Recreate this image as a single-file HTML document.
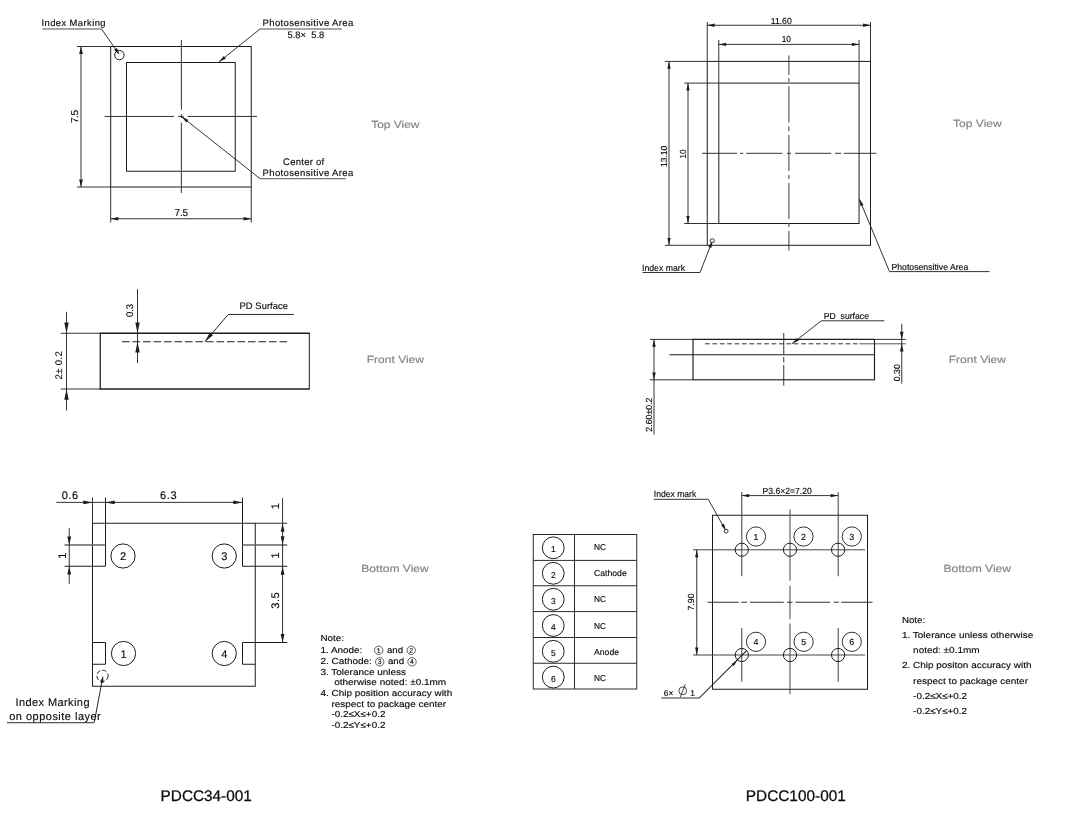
<!DOCTYPE html>
<html lang="en">
<head>
<meta charset="utf-8">
<title>PDCC34-001 / PDCC100-001 package outline</title>
<style>
html,body{margin:0;padding:0;background:#fff;}
body{width:1073px;height:816px;overflow:hidden;}
svg{display:block;font-family:"Liberation Sans",sans-serif;will-change:transform;}
svg text{white-space:pre;text-rendering:geometricPrecision;}
</style>
</head>
<body>
<svg width="1073" height="816" viewBox="0 0 1073 816" role="img" aria-label="Package outline drawings for PDCC34-001 and PDCC100-001">
<rect x="0" y="0" width="1073" height="816" fill="#ffffff"/>
<g id="pdcc34-top">
<rect x="110.7" y="46.5" width="140.55" height="140.5" fill="none" stroke="#1c1c1c" stroke-width="1.0"/>
<rect x="126.5" y="62.5" width="108.75" height="108.75" fill="none" stroke="#1c1c1c" stroke-width="1.0"/>
<line x1="181.4" y1="40" x2="181.4" y2="109.8" stroke="#444" stroke-width="1.1"/>
<line x1="181.4" y1="114.2" x2="181.4" y2="118" stroke="#444" stroke-width="1.1"/>
<line x1="181.4" y1="122.8" x2="181.4" y2="193" stroke="#444" stroke-width="1.1"/>
<line x1="104.5" y1="116.45" x2="174" y2="116.45" stroke="#1c1c1c" stroke-width="0.9"/>
<line x1="178.2" y1="116.45" x2="183.6" y2="116.45" stroke="#1c1c1c" stroke-width="0.9"/>
<line x1="187.8" y1="116.45" x2="257" y2="116.45" stroke="#1c1c1c" stroke-width="0.9"/>
<line x1="77" y1="46.5" x2="110.75" y2="46.5" stroke="#1c1c1c" stroke-width="0.9"/>
<line x1="77" y1="187" x2="110.75" y2="187" stroke="#1c1c1c" stroke-width="0.9"/>
<line x1="81" y1="46.5" x2="81" y2="187" stroke="#333" stroke-width="1"/>
<polygon points="81,46.5 82.85,54.1 79.15,54.1" fill="#1c1c1c"/>
<polygon points="81,187 79.15,179.4 82.85,179.4" fill="#1c1c1c"/>
<text x="0" y="0" font-size="10" fill="#0a0a0a" stroke="#0a0a0a" stroke-width="0.14" text-anchor="middle" textLength="13.2" lengthAdjust="spacing" transform="translate(78.2 116.5) rotate(-90)">7.5</text>
<line x1="110.7" y1="187" x2="110.7" y2="222.5" stroke="#1c1c1c" stroke-width="0.9"/>
<line x1="251.25" y1="187" x2="251.25" y2="222.5" stroke="#1c1c1c" stroke-width="0.9"/>
<line x1="110.75" y1="218.75" x2="251.25" y2="218.75" stroke="#1c1c1c" stroke-width="0.9"/>
<polygon points="110.75,218.75 118.35,216.9 118.35,220.6" fill="#1c1c1c"/>
<polygon points="251.25,218.75 243.65,220.6 243.65,216.9" fill="#1c1c1c"/>
<text x="174.6" y="216.2" font-size="10" fill="#0a0a0a" stroke="#0a0a0a" stroke-width="0.14" textLength="13.4" lengthAdjust="spacing">7.5</text>
<circle cx="119.4" cy="55.1" r="4.7" fill="none" stroke="#1c1c1c" stroke-width="1.0"/>
<text x="41.5" y="25.8" font-size="9.4" fill="#0a0a0a" stroke="#0a0a0a" stroke-width="0.14" textLength="64" lengthAdjust="spacing">Index Marking</text>
<line x1="42.5" y1="29" x2="101.5" y2="29" stroke="#8a8a8a" stroke-width="1.6"/>
<line x1="101.5" y1="29" x2="118.4" y2="53.3" stroke="#1c1c1c" stroke-width="0.9"/>
<polygon points="119.4,54.8 114.08,49.93 117.0,48.0" fill="#1c1c1c"/>
<text x="262.5" y="26.0" font-size="9.5" fill="#0a0a0a" stroke="#0a0a0a" stroke-width="0.14" textLength="90.75" lengthAdjust="spacing">Photosensitive Area</text>
<line x1="260" y1="29" x2="341.75" y2="29" stroke="#8a8a8a" stroke-width="1.6"/>
<line x1="260" y1="29" x2="219" y2="62" stroke="#1c1c1c" stroke-width="0.9"/>
<polygon points="219,62 223.76,55.96 225.9,58.6" fill="#1c1c1c"/>
<text x="287.5" y="37.5" font-size="9.4" fill="#0a0a0a" stroke="#0a0a0a" stroke-width="0.14" textLength="36.75" lengthAdjust="spacing">5.8×  5.8</text>
<text x="283" y="164.6" font-size="9.5" fill="#0a0a0a" stroke="#0a0a0a" stroke-width="0.14" textLength="41.25" lengthAdjust="spacing">Center of</text>
<text x="262.5" y="175.6" font-size="9.5" fill="#0a0a0a" stroke="#0a0a0a" stroke-width="0.14" textLength="90.75" lengthAdjust="spacing">Photosensitive Area</text>
<line x1="260" y1="178.6" x2="345.75" y2="178.6" stroke="#777" stroke-width="1.3"/>
<line x1="260" y1="178.6" x2="181.5" y2="116.6" stroke="#1c1c1c" stroke-width="0.9"/>
<polygon points="181.5,116.6 188.44,119.91 186.33,122.58" fill="#1c1c1c"/>
<text x="371.25" y="127.5" font-size="10.4" fill="#838383" stroke="#838383" stroke-width="0.14" textLength="48.25" lengthAdjust="spacingAndGlyphs">Top View</text>
</g>
<g id="pdcc34-front">
<line x1="99.6" y1="333.25" x2="309.8" y2="333.25" stroke="#1c1c1c" stroke-width="1.3"/>
<line x1="99.6" y1="389" x2="309.8" y2="389" stroke="#1c1c1c" stroke-width="1.3"/>
<line x1="100.25" y1="333.25" x2="100.25" y2="389" stroke="#1c1c1c" stroke-width="1.25"/>
<line x1="309.3" y1="333.25" x2="309.3" y2="389" stroke="#1c1c1c" stroke-width="1.0"/>
<line x1="60.75" y1="333.25" x2="100.25" y2="333.25" stroke="#1c1c1c" stroke-width="0.9"/>
<line x1="60.75" y1="389" x2="100.25" y2="389" stroke="#1c1c1c" stroke-width="0.9"/>
<line x1="66.5" y1="311.75" x2="66.5" y2="410.5" stroke="#1c1c1c" stroke-width="0.9"/>
<polygon points="66.5,333.25 64.3,322.45 68.7,322.45" fill="#1c1c1c"/>
<polygon points="66.5,389 68.7,399.8 64.3,399.8" fill="#1c1c1c"/>
<text x="0" y="0" font-size="9.6" fill="#0a0a0a" stroke="#0a0a0a" stroke-width="0.14" text-anchor="middle" textLength="28.25" lengthAdjust="spacing" transform="translate(62.2 365.4) rotate(-90)">2± 0.2</text>
<line x1="137.5" y1="289.25" x2="137.5" y2="363" stroke="#1c1c1c" stroke-width="0.9"/>
<polygon points="137.5,333.25 135.3,322.45 139.7,322.45" fill="#1c1c1c"/>
<polygon points="137.5,341.75 139.7,352.55 135.3,352.55" fill="#1c1c1c"/>
<text x="0" y="0" font-size="9.6" fill="#0a0a0a" stroke="#0a0a0a" stroke-width="0.14" text-anchor="middle" textLength="13.2" lengthAdjust="spacing" transform="translate(133.4 310.5) rotate(-90)">0.3</text>
<line x1="122" y1="341.75" x2="287" y2="341.75" stroke="#1c1c1c" stroke-width="1.0" stroke-dasharray="7.6 2.9"/>
<text x="239.5" y="309.4" font-size="9.4" fill="#0a0a0a" stroke="#0a0a0a" stroke-width="0.14" textLength="48.5" lengthAdjust="spacing">PD Surface</text>
<line x1="228.25" y1="314.45" x2="293.75" y2="314.45" stroke="#1c1c1c" stroke-width="0.95"/>
<line x1="228.25" y1="314.45" x2="205" y2="341.6" stroke="#1c1c1c" stroke-width="0.95"/>
<polygon points="205,341.6 209.85,332.61 213.06,335.32" fill="#1c1c1c"/>
<text x="366.75" y="363" font-size="10.4" fill="#838383" stroke="#838383" stroke-width="0.14" textLength="57.25" lengthAdjust="spacingAndGlyphs">Front View</text>
</g>
<g id="pdcc34-bottom">
<rect x="92.5" y="523.25" width="162.75" height="163.0" fill="none" stroke="#1c1c1c" stroke-width="1.0"/>
<line x1="92.5" y1="497.5" x2="92.5" y2="523.25" stroke="#1c1c1c" stroke-width="0.9"/>
<line x1="105.5" y1="497.5" x2="105.5" y2="566.25" stroke="#1c1c1c" stroke-width="1.0"/>
<line x1="242.5" y1="497.5" x2="242.5" y2="566.25" stroke="#1c1c1c" stroke-width="1.0"/>
<line x1="64.5" y1="545" x2="105.5" y2="545" stroke="#666" stroke-width="1.4"/>
<line x1="64.5" y1="566.25" x2="105.5" y2="566.25" stroke="#1c1c1c" stroke-width="1.0"/>
<line x1="242.5" y1="545" x2="287.25" y2="545" stroke="#666" stroke-width="1.4"/>
<line x1="242.5" y1="566.25" x2="287.25" y2="566.25" stroke="#1c1c1c" stroke-width="1.0"/>
<line x1="255.25" y1="523.25" x2="287.25" y2="523.25" stroke="#1c1c1c" stroke-width="0.9"/>
<polyline points="92.5,642.5 105.5,642.5 105.5,664.25 92.5,664.25" fill="none" stroke="#1c1c1c" stroke-width="1.0"/>
<polyline points="255.25,664.25 242.5,664.25 242.5,642.5 287.25,642.5" fill="none" stroke="#1c1c1c" stroke-width="1.0"/>
<line x1="56.25" y1="502.4" x2="242.5" y2="502.4" stroke="#1c1c1c" stroke-width="0.9"/>
<polygon points="92.5,502.4 83.3,504.3 83.3,500.5" fill="#1c1c1c"/>
<polygon points="105.5,502.4 114.7,500.5 114.7,504.3" fill="#1c1c1c"/>
<polygon points="242.5,502.4 233.3,504.3 233.3,500.5" fill="#1c1c1c"/>
<text x="61.75" y="499.2" font-size="11" fill="#0a0a0a" stroke="#0a0a0a" stroke-width="0.14" textLength="16.25" lengthAdjust="spacing">0.6</text>
<text x="160" y="499.2" font-size="11" fill="#0a0a0a" stroke="#0a0a0a" stroke-width="0.14" textLength="16.5" lengthAdjust="spacing">6.3</text>
<line x1="69.25" y1="528.25" x2="69.25" y2="583.75" stroke="#1c1c1c" stroke-width="0.9"/>
<polygon points="69.25,544.75 67.35,536.55 71.15,536.55" fill="#1c1c1c"/>
<polygon points="69.25,566.25 71.15,574.45 67.35,574.45" fill="#1c1c1c"/>
<text x="0" y="0" font-size="11" fill="#0a0a0a" stroke="#0a0a0a" stroke-width="0.14" text-anchor="middle" transform="translate(66 555.75) rotate(-90)">1</text>
<line x1="282.6" y1="498.25" x2="282.6" y2="642.5" stroke="#1c1c1c" stroke-width="0.9"/>
<polygon points="282.6,523.25 284.5,531.85 280.7,531.85" fill="#1c1c1c"/>
<polygon points="282.6,544.75 280.7,536.15 284.5,536.15" fill="#1c1c1c"/>
<polygon points="282.6,566.25 284.5,574.85 280.7,574.85" fill="#1c1c1c"/>
<polygon points="282.6,642.5 280.7,633.9 284.5,633.9" fill="#1c1c1c"/>
<text x="0" y="0" font-size="11" fill="#0a0a0a" stroke="#0a0a0a" stroke-width="0.14" text-anchor="middle" transform="translate(279 506.25) rotate(-90)">1</text>
<text x="0" y="0" font-size="11" fill="#0a0a0a" stroke="#0a0a0a" stroke-width="0.14" text-anchor="middle" transform="translate(279 555.5) rotate(-90)">1</text>
<text x="0" y="0" font-size="11" fill="#0a0a0a" stroke="#0a0a0a" stroke-width="0.14" text-anchor="middle" textLength="16.25" lengthAdjust="spacing" transform="translate(278.7 600.5) rotate(-90)">3.5</text>
<circle cx="123" cy="556" r="12.1" fill="none" stroke="#1c1c1c" stroke-width="1.0"/>
<text x="123" y="560.0" font-size="11" fill="#0a0a0a" stroke="#0a0a0a" stroke-width="0.14" text-anchor="middle">2</text>
<circle cx="224.25" cy="556" r="12.1" fill="none" stroke="#1c1c1c" stroke-width="1.0"/>
<text x="224.25" y="560.0" font-size="11" fill="#0a0a0a" stroke="#0a0a0a" stroke-width="0.14" text-anchor="middle">3</text>
<circle cx="123.5" cy="653.5" r="12.1" fill="none" stroke="#1c1c1c" stroke-width="1.0"/>
<text x="123.5" y="657.5" font-size="11" fill="#0a0a0a" stroke="#0a0a0a" stroke-width="0.14" text-anchor="middle">1</text>
<circle cx="224.25" cy="653.5" r="12.1" fill="none" stroke="#1c1c1c" stroke-width="1.0"/>
<text x="224.25" y="657.5" font-size="11" fill="#0a0a0a" stroke="#0a0a0a" stroke-width="0.14" text-anchor="middle">4</text>
<circle cx="102.5" cy="675.75" r="5.6" fill="none" stroke="#1c1c1c" stroke-width="1.0" stroke-dasharray="4.2 2.2"/>
<line x1="94.25" y1="722.5" x2="102.6" y2="678" stroke="#1c1c1c" stroke-width="0.95"/>
<polygon points="103.1,675.8 103.48,682.99 100.14,682.37" fill="#1c1c1c"/>
<line x1="7" y1="722.6" x2="94.25" y2="722.6" stroke="#555" stroke-width="1.3"/>
<text x="15.5" y="706.4" font-size="11" fill="#0a0a0a" stroke="#0a0a0a" stroke-width="0.14" textLength="74" lengthAdjust="spacing">Index Marking</text>
<text x="9.25" y="719.5" font-size="11" fill="#0a0a0a" stroke="#0a0a0a" stroke-width="0.14" textLength="91.5" lengthAdjust="spacing">on opposite layer</text>
<text x="361.3" y="572" font-size="10.4" fill="#838383" stroke="#838383" stroke-width="0.14" textLength="67.5" lengthAdjust="spacingAndGlyphs">Bottom View</text>
<text x="320.4" y="641.1" font-size="8.7" fill="#0a0a0a" stroke="#0a0a0a" stroke-width="0.14" textLength="23.5" lengthAdjust="spacingAndGlyphs">Note:</text>
<text x="320.4" y="652.6" font-size="8.7" fill="#0a0a0a" stroke="#0a0a0a" stroke-width="0.14" textLength="42" lengthAdjust="spacingAndGlyphs">1. Anode:</text>
<text x="386.9" y="652.6" font-size="8.7" fill="#0a0a0a" stroke="#0a0a0a" stroke-width="0.14" textLength="16.2" lengthAdjust="spacingAndGlyphs">and</text>
<text x="320.4" y="664.1" font-size="8.7" fill="#0a0a0a" stroke="#0a0a0a" stroke-width="0.14" textLength="51.5" lengthAdjust="spacingAndGlyphs">2. Cathode:</text>
<text x="387.9" y="664.1" font-size="8.7" fill="#0a0a0a" stroke="#0a0a0a" stroke-width="0.14" textLength="16.2" lengthAdjust="spacingAndGlyphs">and</text>
<circle cx="378.7" cy="650.3" r="4.2" fill="none" stroke="#1c1c1c" stroke-width="0.7"/>
<text x="378.7" y="652.6999999999999" font-size="6.8" fill="#0a0a0a" stroke="#0a0a0a" stroke-width="0.14" text-anchor="middle">1</text>
<circle cx="411.2" cy="650.3" r="4.2" fill="none" stroke="#1c1c1c" stroke-width="0.7"/>
<text x="411.2" y="652.6999999999999" font-size="6.8" fill="#0a0a0a" stroke="#0a0a0a" stroke-width="0.14" text-anchor="middle">2</text>
<circle cx="379.7" cy="661.8" r="4.2" fill="none" stroke="#1c1c1c" stroke-width="0.7"/>
<text x="379.7" y="664.1999999999999" font-size="6.8" fill="#0a0a0a" stroke="#0a0a0a" stroke-width="0.14" text-anchor="middle">3</text>
<circle cx="412" cy="661.8" r="4.2" fill="none" stroke="#1c1c1c" stroke-width="0.7"/>
<text x="412" y="664.1999999999999" font-size="6.8" fill="#0a0a0a" stroke="#0a0a0a" stroke-width="0.14" text-anchor="middle">4</text>
<text x="320.4" y="674.9" font-size="8.7" fill="#0a0a0a" stroke="#0a0a0a" stroke-width="0.14" textLength="85.7" lengthAdjust="spacingAndGlyphs">3. Tolerance unless</text>
<text x="334.2" y="685.2" font-size="8.7" fill="#0a0a0a" stroke="#0a0a0a" stroke-width="0.14" textLength="112" lengthAdjust="spacingAndGlyphs">otherwise noted: ±0.1mm</text>
<text x="320.4" y="696.0" font-size="8.7" fill="#0a0a0a" stroke="#0a0a0a" stroke-width="0.14" textLength="131.8" lengthAdjust="spacingAndGlyphs">4. Chip position accuracy with</text>
<text x="331.4" y="706.7" font-size="8.7" fill="#0a0a0a" stroke="#0a0a0a" stroke-width="0.14" textLength="114.8" lengthAdjust="spacingAndGlyphs">respect to package center</text>
<text x="331.4" y="717.1" font-size="8.7" fill="#0a0a0a" stroke="#0a0a0a" stroke-width="0.14" textLength="54" lengthAdjust="spacingAndGlyphs">-0.2≤X≤+0.2</text>
<text x="331.4" y="727.6" font-size="8.7" fill="#0a0a0a" stroke="#0a0a0a" stroke-width="0.14" textLength="54" lengthAdjust="spacingAndGlyphs">-0.2≤Y≤+0.2</text>
<text x="160.6" y="800.9" font-size="15.4" fill="#0a0a0a" stroke="#0a0a0a" stroke-width="0.25" textLength="91.2" lengthAdjust="spacingAndGlyphs">PDCC34-001</text>
</g>
<g id="pdcc100-top">
<rect x="707.25" y="61.4" width="163.25" height="183.9" fill="none" stroke="#1c1c1c" stroke-width="1.0"/>
<rect x="718.8" y="83.1" width="140.25" height="140.4" fill="none" stroke="#1c1c1c" stroke-width="1.0"/>
<line x1="707.25" y1="22" x2="707.25" y2="61.25" stroke="#1c1c1c" stroke-width="0.9"/>
<line x1="870.5" y1="22" x2="870.5" y2="61.25" stroke="#1c1c1c" stroke-width="0.9"/>
<line x1="718.75" y1="40" x2="718.75" y2="83" stroke="#1c1c1c" stroke-width="0.9"/>
<line x1="859.05" y1="40" x2="859.05" y2="83" stroke="#1c1c1c" stroke-width="0.9"/>
<line x1="707.25" y1="25.25" x2="870.5" y2="25.25" stroke="#1c1c1c" stroke-width="0.9"/>
<polygon points="707.25,25.25 714.65,23.6 714.65,26.9" fill="#1c1c1c"/>
<polygon points="870.5,25.25 863.1,26.9 863.1,23.6" fill="#1c1c1c"/>
<line x1="718.75" y1="44.4" x2="859.25" y2="44.4" stroke="#1c1c1c" stroke-width="0.9"/>
<polygon points="718.75,44.4 726.15,42.75 726.15,46.05" fill="#1c1c1c"/>
<polygon points="859.25,44.4 851.85,46.05 851.85,42.75" fill="#1c1c1c"/>
<text x="770.75" y="23.75" font-size="8.8" fill="#0a0a0a" stroke="#0a0a0a" stroke-width="0.14" textLength="21" lengthAdjust="spacingAndGlyphs">11.60</text>
<text x="781.75" y="42.0" font-size="8.8" fill="#0a0a0a" stroke="#0a0a0a" stroke-width="0.14" textLength="9.25" lengthAdjust="spacingAndGlyphs">10</text>
<line x1="665" y1="61.4" x2="707.25" y2="61.4" stroke="#1c1c1c" stroke-width="0.9"/>
<line x1="665" y1="245.3" x2="707.25" y2="245.3" stroke="#1c1c1c" stroke-width="0.9"/>
<line x1="684.25" y1="83.1" x2="718.75" y2="83.1" stroke="#1c1c1c" stroke-width="0.9"/>
<line x1="684.25" y1="223.5" x2="718.75" y2="223.5" stroke="#1c1c1c" stroke-width="0.9"/>
<line x1="669" y1="61.4" x2="669" y2="245.3" stroke="#333" stroke-width="1"/>
<polygon points="669,61.4 670.65,68.8 667.35,68.8" fill="#1c1c1c"/>
<polygon points="669,245.3 667.35,237.9 670.65,237.9" fill="#1c1c1c"/>
<line x1="688" y1="83.1" x2="688" y2="223.5" stroke="#333" stroke-width="1"/>
<polygon points="688,83.1 689.65,90.5 686.35,90.5" fill="#1c1c1c"/>
<polygon points="688,223.5 686.35,216.1 689.65,216.1" fill="#1c1c1c"/>
<text x="0" y="0" font-size="8.8" fill="#0a0a0a" stroke="#0a0a0a" stroke-width="0.14" text-anchor="middle" textLength="21.25" lengthAdjust="spacingAndGlyphs" transform="translate(666.9 156.4) rotate(-90)">13.10</text>
<text x="0" y="0" font-size="8.8" fill="#0a0a0a" stroke="#0a0a0a" stroke-width="0.14" text-anchor="middle" textLength="9" lengthAdjust="spacingAndGlyphs" transform="translate(685.8 154) rotate(-90)">10</text>
<line x1="702" y1="153.3" x2="737" y2="153.3" stroke="#1c1c1c" stroke-width="0.9"/>
<line x1="740" y1="153.3" x2="743.25" y2="153.3" stroke="#1c1c1c" stroke-width="0.9"/>
<line x1="746.25" y1="153.3" x2="782.5" y2="153.3" stroke="#1c1c1c" stroke-width="0.9"/>
<line x1="787" y1="153.3" x2="791" y2="153.3" stroke="#1c1c1c" stroke-width="0.9"/>
<line x1="795" y1="153.3" x2="831.25" y2="153.3" stroke="#1c1c1c" stroke-width="0.9"/>
<line x1="835" y1="153.3" x2="841.25" y2="153.3" stroke="#1c1c1c" stroke-width="0.9"/>
<line x1="843.75" y1="153.3" x2="876.25" y2="153.3" stroke="#1c1c1c" stroke-width="0.9"/>
<line x1="788.9" y1="55.5" x2="788.9" y2="75" stroke="#333" stroke-width="0.95"/>
<line x1="788.9" y1="78" x2="788.9" y2="82" stroke="#333" stroke-width="0.95"/>
<line x1="788.9" y1="86.25" x2="788.9" y2="122.5" stroke="#333" stroke-width="0.95"/>
<line x1="788.9" y1="126.25" x2="788.9" y2="131.25" stroke="#333" stroke-width="0.95"/>
<line x1="788.9" y1="135" x2="788.9" y2="171" stroke="#333" stroke-width="0.95"/>
<line x1="788.9" y1="175" x2="788.9" y2="179" stroke="#333" stroke-width="0.95"/>
<line x1="788.9" y1="183" x2="788.9" y2="219" stroke="#333" stroke-width="0.95"/>
<line x1="788.9" y1="223" x2="788.9" y2="227" stroke="#333" stroke-width="0.95"/>
<line x1="788.9" y1="231" x2="788.9" y2="250.5" stroke="#333" stroke-width="0.95"/>
<circle cx="712.25" cy="240.75" r="2.1" fill="none" stroke="#1c1c1c" stroke-width="0.9"/>
<text x="642" y="270.75" font-size="9" fill="#0a0a0a" stroke="#0a0a0a" stroke-width="0.14" textLength="43" lengthAdjust="spacingAndGlyphs">Index mark</text>
<line x1="642.5" y1="272.5" x2="700" y2="272.5" stroke="#1c1c1c" stroke-width="0.9"/>
<line x1="700" y1="272.5" x2="711.8" y2="242.5" stroke="#1c1c1c" stroke-width="0.9"/>
<polygon points="712.3,241.3 711.33,248.02 708.36,246.83" fill="#1c1c1c"/>
<line x1="859.2" y1="198.75" x2="889.5" y2="271.6" stroke="#1c1c1c" stroke-width="0.9"/>
<polygon points="859.2,198.75 863.57,204.95 860.52,206.22" fill="#1c1c1c"/>
<line x1="889.5" y1="271.6" x2="989.5" y2="271.6" stroke="#1c1c1c" stroke-width="0.9"/>
<text x="891.5" y="270" font-size="8.8" fill="#0a0a0a" stroke="#0a0a0a" stroke-width="0.14" textLength="76.75" lengthAdjust="spacingAndGlyphs">Photosensitive Area</text>
<text x="953" y="127" font-size="10.4" fill="#838383" stroke="#838383" stroke-width="0.14" textLength="48.75" lengthAdjust="spacingAndGlyphs">Top View</text>
</g>
<g id="pdcc100-front">
<rect x="693" y="339.4" width="181.5" height="40.4" fill="none" stroke="#1c1c1c" stroke-width="1.15"/>
<line x1="669.5" y1="354.75" x2="874.5" y2="354.75" stroke="#1c1c1c" stroke-width="1.2"/>
<line x1="650" y1="339.4" x2="905.75" y2="339.4" stroke="#1c1c1c" stroke-width="0.9"/>
<line x1="650" y1="379.8" x2="693" y2="379.8" stroke="#1c1c1c" stroke-width="0.9"/>
<line x1="705" y1="343.8" x2="857.5" y2="343.8" stroke="#1c1c1c" stroke-width="0.9" stroke-dasharray="4.7 2.7"/>
<line x1="859.5" y1="343.8" x2="905.75" y2="343.8" stroke="#444" stroke-width="0.9"/>
<line x1="654" y1="339.25" x2="654" y2="434.5" stroke="#1c1c1c" stroke-width="0.9"/>
<polygon points="654,339.4 655.75,346.8 652.25,346.8" fill="#1c1c1c"/>
<polygon points="654,379.8 652.25,372.4 655.75,372.4" fill="#1c1c1c"/>
<text x="0" y="0" font-size="8.8" fill="#0a0a0a" stroke="#0a0a0a" stroke-width="0.14" text-anchor="middle" textLength="34.25" lengthAdjust="spacingAndGlyphs" transform="translate(652.2 414.6) rotate(-90)">2.60±0.2</text>
<line x1="783.75" y1="333" x2="783.75" y2="354.5" stroke="#1c1c1c" stroke-width="0.9"/>
<line x1="783.75" y1="357" x2="783.75" y2="362.5" stroke="#1c1c1c" stroke-width="0.9"/>
<line x1="783.75" y1="365" x2="783.75" y2="385.5" stroke="#1c1c1c" stroke-width="0.9"/>
<text x="823.75" y="318.5" font-size="8.8" fill="#0a0a0a" stroke="#0a0a0a" stroke-width="0.14" textLength="45.25" lengthAdjust="spacingAndGlyphs">PD  surface</text>
<line x1="821.25" y1="320.8" x2="884.25" y2="320.8" stroke="#1c1c1c" stroke-width="0.9"/>
<line x1="821.25" y1="320.8" x2="792" y2="343.8" stroke="#1c1c1c" stroke-width="0.9"/>
<polygon points="792,343.8 796.84,337.96 798.86,340.57" fill="#1c1c1c"/>
<line x1="901.75" y1="323.75" x2="901.75" y2="383.75" stroke="#1c1c1c" stroke-width="0.9"/>
<polygon points="901.75,339.4 899.95,331.8 903.55,331.8" fill="#1c1c1c"/>
<polygon points="901.75,343.8 903.55,351.4 899.95,351.4" fill="#1c1c1c"/>
<text x="0" y="0" font-size="8.8" fill="#0a0a0a" stroke="#0a0a0a" stroke-width="0.14" text-anchor="middle" textLength="17" lengthAdjust="spacingAndGlyphs" transform="translate(900 372.75) rotate(-90)">0.30</text>
<text x="948.75" y="363.25" font-size="10.4" fill="#838383" stroke="#838383" stroke-width="0.14" textLength="57.25" lengthAdjust="spacingAndGlyphs">Front View</text>
</g>
<g id="pdcc100-bottom">
<rect x="712.5" y="515.25" width="155.0" height="174.0" fill="none" stroke="#1c1c1c" stroke-width="1.0"/>
<line x1="741.8" y1="492" x2="741.8" y2="576.25" stroke="#333" stroke-width="0.95"/>
<line x1="838.2" y1="492" x2="838.2" y2="576.25" stroke="#333" stroke-width="0.95"/>
<line x1="741.75" y1="495.6" x2="838" y2="495.6" stroke="#1c1c1c" stroke-width="0.9"/>
<polygon points="741.75,495.6 749.15,493.95 749.15,497.25" fill="#1c1c1c"/>
<polygon points="838,495.6 830.6,497.25 830.6,493.95" fill="#1c1c1c"/>
<text x="762.5" y="493.75" font-size="8.8" fill="#0a0a0a" stroke="#0a0a0a" stroke-width="0.14" textLength="49.25" lengthAdjust="spacingAndGlyphs">P3.6×2=7.20</text>
<line x1="693" y1="549.8" x2="865" y2="549.8" stroke="#444" stroke-width="1"/>
<line x1="693" y1="655" x2="865" y2="655" stroke="#444" stroke-width="1"/>
<line x1="741.8" y1="628" x2="741.8" y2="681.8" stroke="#333" stroke-width="0.95"/>
<line x1="838.2" y1="628" x2="838.2" y2="681.8" stroke="#333" stroke-width="0.95"/>
<line x1="790" y1="509.5" x2="790" y2="580.6" stroke="#444" stroke-width="1"/>
<line x1="790" y1="585.7" x2="790" y2="619.2" stroke="#444" stroke-width="1"/>
<line x1="790" y1="623.5" x2="790" y2="694.2" stroke="#444" stroke-width="1"/>
<line x1="707.5" y1="602.25" x2="738.75" y2="602.25" stroke="#1c1c1c" stroke-width="0.9"/>
<line x1="741.25" y1="602.25" x2="747" y2="602.25" stroke="#1c1c1c" stroke-width="0.9"/>
<line x1="750" y1="602.25" x2="783.75" y2="602.25" stroke="#1c1c1c" stroke-width="0.9"/>
<line x1="787" y1="602.25" x2="792.5" y2="602.25" stroke="#1c1c1c" stroke-width="0.9"/>
<line x1="795.5" y1="602.25" x2="830" y2="602.25" stroke="#1c1c1c" stroke-width="0.9"/>
<line x1="833.75" y1="602.25" x2="838.75" y2="602.25" stroke="#1c1c1c" stroke-width="0.9"/>
<line x1="841.25" y1="602.25" x2="872.5" y2="602.25" stroke="#1c1c1c" stroke-width="0.9"/>
<circle cx="741.8" cy="549.75" r="6.6" fill="none" stroke="#1c1c1c" stroke-width="1.0"/>
<circle cx="741.8" cy="655" r="6.6" fill="none" stroke="#1c1c1c" stroke-width="1.0"/>
<circle cx="790" cy="549.75" r="6.6" fill="none" stroke="#1c1c1c" stroke-width="1.0"/>
<circle cx="790" cy="655" r="6.6" fill="none" stroke="#1c1c1c" stroke-width="1.0"/>
<circle cx="838.1" cy="549.75" r="6.6" fill="none" stroke="#1c1c1c" stroke-width="1.0"/>
<circle cx="838.1" cy="655" r="6.6" fill="none" stroke="#1c1c1c" stroke-width="1.0"/>
<circle cx="756" cy="536.5" r="9.6" fill="none" stroke="#1c1c1c" stroke-width="0.9"/>
<text x="756" y="540.0" font-size="8.8" fill="#0a0a0a" stroke="#0a0a0a" stroke-width="0.14" text-anchor="middle">1</text>
<circle cx="803.5" cy="536.5" r="9.6" fill="none" stroke="#1c1c1c" stroke-width="0.9"/>
<text x="803.5" y="540.0" font-size="8.8" fill="#0a0a0a" stroke="#0a0a0a" stroke-width="0.14" text-anchor="middle">2</text>
<circle cx="851.8" cy="536.5" r="9.6" fill="none" stroke="#1c1c1c" stroke-width="0.9"/>
<text x="851.8" y="540.0" font-size="8.8" fill="#0a0a0a" stroke="#0a0a0a" stroke-width="0.14" text-anchor="middle">3</text>
<circle cx="756" cy="641.8" r="9.6" fill="none" stroke="#1c1c1c" stroke-width="0.9"/>
<text x="756" y="645.3" font-size="8.8" fill="#0a0a0a" stroke="#0a0a0a" stroke-width="0.14" text-anchor="middle">4</text>
<circle cx="803.6" cy="641.8" r="9.6" fill="none" stroke="#1c1c1c" stroke-width="0.9"/>
<text x="803.6" y="645.3" font-size="8.8" fill="#0a0a0a" stroke="#0a0a0a" stroke-width="0.14" text-anchor="middle">5</text>
<circle cx="851.8" cy="641.8" r="9.6" fill="none" stroke="#1c1c1c" stroke-width="0.9"/>
<text x="851.8" y="645.3" font-size="8.8" fill="#0a0a0a" stroke="#0a0a0a" stroke-width="0.14" text-anchor="middle">6</text>
<line x1="696.75" y1="549.75" x2="696.75" y2="655" stroke="#1c1c1c" stroke-width="0.9"/>
<polygon points="696.75,549.75 698.4,557.15 695.1,557.15" fill="#1c1c1c"/>
<polygon points="696.75,655 695.1,647.6 698.4,647.6" fill="#1c1c1c"/>
<text x="0" y="0" font-size="8.8" fill="#0a0a0a" stroke="#0a0a0a" stroke-width="0.14" text-anchor="middle" textLength="17" lengthAdjust="spacingAndGlyphs" transform="translate(694.3 602) rotate(-90)">7.90</text>
<circle cx="726.2" cy="531.2" r="1.9" fill="none" stroke="#1c1c1c" stroke-width="0.9"/>
<text x="653.75" y="497" font-size="9" fill="#0a0a0a" stroke="#0a0a0a" stroke-width="0.14" textLength="42.5" lengthAdjust="spacingAndGlyphs">Index mark</text>
<line x1="653.75" y1="499.3" x2="708.25" y2="499.3" stroke="#1c1c1c" stroke-width="0.9"/>
<line x1="708.25" y1="499.3" x2="725" y2="529.2" stroke="#1c1c1c" stroke-width="0.9"/>
<polygon points="725.9,530.6 721.04,525.28 724.02,523.65" fill="#1c1c1c"/>
<line x1="661.25" y1="698" x2="699.5" y2="698" stroke="#1c1c1c" stroke-width="0.9"/>
<line x1="699.3" y1="698" x2="746.6" y2="650.6" stroke="#111" stroke-width="1.05"/>
<polygon points="736.8,660.9 733.76,666.06 731.64,663.94" fill="#1c1c1c"/>
<text x="663.75" y="696" font-size="8.4" fill="#0a0a0a" stroke="#0a0a0a" stroke-width="0.14" textLength="9.5" lengthAdjust="spacingAndGlyphs">6×</text>
<circle cx="682.75" cy="690.8" r="3.9" fill="none" stroke="#1c1c1c" stroke-width="0.8"/>
<line x1="680.3" y1="697.2" x2="685.4" y2="684.2" stroke="#1c1c1c" stroke-width="0.8"/>
<text x="690.3" y="696" font-size="8.4" fill="#0a0a0a" stroke="#0a0a0a" stroke-width="0.14">1</text>
<text x="943.5" y="571.7" font-size="10.4" fill="#838383" stroke="#838383" stroke-width="0.14" textLength="67.5" lengthAdjust="spacingAndGlyphs">Bottom View</text>
<text x="901.9" y="622.6" font-size="8.7" fill="#0a0a0a" stroke="#0a0a0a" stroke-width="0.14" textLength="23.3" lengthAdjust="spacingAndGlyphs">Note:</text>
<text x="901.9" y="638" font-size="8.7" fill="#0a0a0a" stroke="#0a0a0a" stroke-width="0.14" textLength="131.4" lengthAdjust="spacingAndGlyphs">1. Tolerance unless otherwise</text>
<text x="913.1" y="653.1" font-size="8.7" fill="#0a0a0a" stroke="#0a0a0a" stroke-width="0.14" textLength="66.5" lengthAdjust="spacingAndGlyphs">noted: ±0.1mm</text>
<text x="901.9" y="668.4" font-size="8.7" fill="#0a0a0a" stroke="#0a0a0a" stroke-width="0.14" textLength="129.7" lengthAdjust="spacingAndGlyphs">2. Chip positon accuracy with</text>
<text x="913.1" y="683.5" font-size="8.7" fill="#0a0a0a" stroke="#0a0a0a" stroke-width="0.14" textLength="114.9" lengthAdjust="spacingAndGlyphs">respect to package center</text>
<text x="913.1" y="698.9" font-size="8.7" fill="#0a0a0a" stroke="#0a0a0a" stroke-width="0.14" textLength="54" lengthAdjust="spacingAndGlyphs">-0.2≤X≤+0.2</text>
<text x="913.1" y="714.2" font-size="8.7" fill="#0a0a0a" stroke="#0a0a0a" stroke-width="0.14" textLength="54" lengthAdjust="spacingAndGlyphs">-0.2≤Y≤+0.2</text>
<text x="745.8" y="800.9" font-size="15.4" fill="#0a0a0a" stroke="#0a0a0a" stroke-width="0.25" textLength="100" lengthAdjust="spacingAndGlyphs">PDCC100-001</text>
</g>
<g id="pin-table">
<rect x="533.25" y="534.5" width="103.5" height="154.5" fill="none" stroke="#2a2a2a" stroke-width="1"/>
<line x1="574.5" y1="534.5" x2="574.5" y2="689" stroke="#2a2a2a" stroke-width="1"/>
<line x1="533.25" y1="560.4" x2="636.75" y2="560.4" stroke="#2a2a2a" stroke-width="1"/>
<line x1="533.25" y1="585.75" x2="636.75" y2="585.75" stroke="#2a2a2a" stroke-width="1"/>
<line x1="533.25" y1="611.6" x2="636.75" y2="611.6" stroke="#2a2a2a" stroke-width="1"/>
<line x1="533.25" y1="637.5" x2="636.75" y2="637.5" stroke="#2a2a2a" stroke-width="1"/>
<line x1="533.25" y1="663.25" x2="636.75" y2="663.25" stroke="#2a2a2a" stroke-width="1"/>
<circle cx="553.25" cy="547.8" r="10.9" fill="none" stroke="#1c1c1c" stroke-width="1.0"/>
<text x="553.25" y="552.1999999999999" font-size="8.5" fill="#0a0a0a" stroke="#0a0a0a" stroke-width="0.14" text-anchor="middle">1</text>
<text x="594" y="549.5" font-size="8.6" fill="#0a0a0a" stroke="#0a0a0a" stroke-width="0.14" textLength="12" lengthAdjust="spacingAndGlyphs">NC</text>
<circle cx="553.25" cy="573.3" r="10.9" fill="none" stroke="#1c1c1c" stroke-width="1.0"/>
<text x="553.25" y="577.6999999999999" font-size="8.5" fill="#0a0a0a" stroke="#0a0a0a" stroke-width="0.14" text-anchor="middle">2</text>
<text x="594" y="575.8" font-size="8.6" fill="#0a0a0a" stroke="#0a0a0a" stroke-width="0.14" textLength="32.75" lengthAdjust="spacingAndGlyphs">Cathode</text>
<circle cx="553.25" cy="599.3" r="10.9" fill="none" stroke="#1c1c1c" stroke-width="1.0"/>
<text x="553.25" y="603.6999999999999" font-size="8.5" fill="#0a0a0a" stroke="#0a0a0a" stroke-width="0.14" text-anchor="middle">3</text>
<text x="594" y="602.2" font-size="8.6" fill="#0a0a0a" stroke="#0a0a0a" stroke-width="0.14" textLength="12" lengthAdjust="spacingAndGlyphs">NC</text>
<circle cx="553.25" cy="625.5" r="10.9" fill="none" stroke="#1c1c1c" stroke-width="1.0"/>
<text x="553.25" y="629.9" font-size="8.5" fill="#0a0a0a" stroke="#0a0a0a" stroke-width="0.14" text-anchor="middle">4</text>
<text x="594" y="628.6" font-size="8.6" fill="#0a0a0a" stroke="#0a0a0a" stroke-width="0.14" textLength="12" lengthAdjust="spacingAndGlyphs">NC</text>
<circle cx="553.25" cy="651.3" r="10.9" fill="none" stroke="#1c1c1c" stroke-width="1.0"/>
<text x="553.25" y="655.6999999999999" font-size="8.5" fill="#0a0a0a" stroke="#0a0a0a" stroke-width="0.14" text-anchor="middle">5</text>
<text x="594" y="655" font-size="8.6" fill="#0a0a0a" stroke="#0a0a0a" stroke-width="0.14" textLength="25" lengthAdjust="spacingAndGlyphs">Anode</text>
<circle cx="553.25" cy="677.1" r="10.9" fill="none" stroke="#1c1c1c" stroke-width="1.0"/>
<text x="553.25" y="681.5" font-size="8.5" fill="#0a0a0a" stroke="#0a0a0a" stroke-width="0.14" text-anchor="middle">6</text>
<text x="594" y="681.3" font-size="8.6" fill="#0a0a0a" stroke="#0a0a0a" stroke-width="0.14" textLength="12" lengthAdjust="spacingAndGlyphs">NC</text>
</g>
</svg>
</body>
</html>
